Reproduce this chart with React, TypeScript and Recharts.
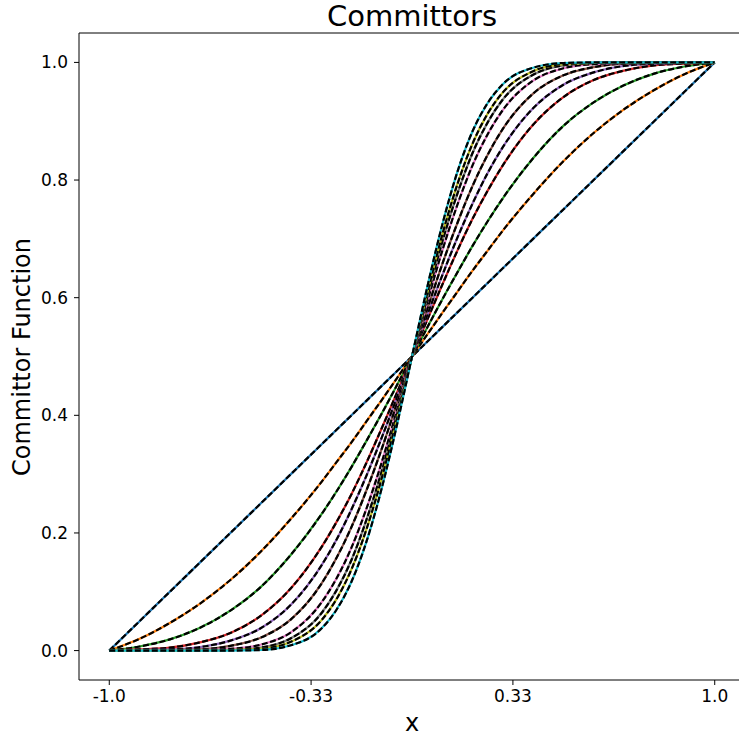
import React from "react";
import { LineChart, Line, XAxis, YAxis } from "recharts";

const xs = [-1, -0.9, -0.8, -0.7, -0.6, -0.5, -0.4, -0.3, -0.25, -0.2, -0.15, -0.1, -0.05, 0, 0.05, 0.1, 0.15, 0.2, 0.25, 0.3, 0.4, 0.5, 0.6, 0.7, 0.8, 0.9, 1];

const q0 = [0, 0.05, 0.1, 0.15, 0.2, 0.25, 0.3, 0.35, 0.375, 0.4, 0.425, 0.45, 0.475, 0.5, 0.525, 0.55, 0.575, 0.6, 0.625, 0.65, 0.7, 0.75, 0.8, 0.85, 0.9, 0.95, 1];
const q1 = [0, 0.02, 0.047, 0.08, 0.12, 0.168, 0.224, 0.286, 0.32, 0.354, 0.39, 0.426, 0.463, 0.5, 0.537, 0.574, 0.61, 0.646, 0.68, 0.714, 0.776, 0.832, 0.88, 0.92, 0.953, 0.98, 1];
const q2 = [0, 0.007, 0.019, 0.039, 0.068, 0.108, 0.163, 0.231, 0.27, 0.312, 0.357, 0.403, 0.451, 0.5, 0.549, 0.597, 0.643, 0.688, 0.73, 0.769, 0.837, 0.892, 0.932, 0.961, 0.981, 0.993, 1];
const q3 = [0, 0.002, 0.005, 0.014, 0.03, 0.059, 0.106, 0.175, 0.218, 0.266, 0.32, 0.378, 0.438, 0.5, 0.562, 0.622, 0.68, 0.734, 0.782, 0.825, 0.894, 0.941, 0.97, 0.986, 0.995, 0.998, 1];
const q4 = [0, 0.001, 0.002, 0.006, 0.017, 0.038, 0.078, 0.144, 0.188, 0.24, 0.298, 0.362, 0.43, 0.5, 0.57, 0.638, 0.702, 0.76, 0.812, 0.856, 0.922, 0.962, 0.983, 0.994, 0.998, 0.999, 1];
const q5 = [0, 0, 0.001, 0.002, 0.008, 0.022, 0.053, 0.113, 0.157, 0.21, 0.273, 0.343, 0.42, 0.5, 0.58, 0.657, 0.727, 0.79, 0.843, 0.887, 0.947, 0.978, 0.992, 0.998, 0.999, 1, 1];
const q6 = [0, 0, 0, 0.001, 0.003, 0.01, 0.031, 0.081, 0.122, 0.175, 0.242, 0.32, 0.408, 0.5, 0.592, 0.68, 0.758, 0.825, 0.878, 0.919, 0.969, 0.99, 0.997, 0.999, 1, 1, 1];
const q7 = [0, 0, 0, 0, 0.001, 0.005, 0.021, 0.063, 0.102, 0.154, 0.223, 0.305, 0.4, 0.5, 0.6, 0.695, 0.777, 0.846, 0.898, 0.937, 0.979, 0.995, 0.999, 1, 1, 1, 1];
const q8 = [0, 0, 0, 0, 0.001, 0.003, 0.015, 0.051, 0.087, 0.138, 0.207, 0.293, 0.393, 0.5, 0.607, 0.707, 0.793, 0.862, 0.913, 0.949, 0.985, 0.997, 0.999, 1, 1, 1, 1];
const q9 = [0, 0, 0, 0, 0, 0.001, 0.009, 0.037, 0.069, 0.117, 0.186, 0.276, 0.383, 0.5, 0.617, 0.724, 0.814, 0.883, 0.931, 0.963, 0.991, 0.999, 1, 1, 1, 1, 1];

const curves = [q0, q1, q2, q3, q4, q5, q6, q7, q8, q9];
const colors = ["#1f77b4", "#ff7f0e", "#2ca02c", "#d62728", "#9467bd", "#8c564b", "#e377c2", "#7f7f7f", "#bcbd22", "#17becf"];

const xTicks = [-1, -1 / 3, 1 / 3, 1];
const xTickLabels = ["-1.0", "-0.33", "0.33", "1.0"];
const yTicks = [0, 0.2, 0.4, 0.6, 0.8, 1.0];

const data = xs.map((x, i) => {
  const row: any = { x };
  curves.forEach((c, k) => {
    row["q" + k] = c[i];
  });
  return row;
});

const font = "DejaVu Sans, sans-serif";
const tickStyle = { fontSize: 17, fill: "#000", fontFamily: font };

const App = () => {
  return (
    <div
      style={{
        position: "absolute",
        left: 0,
        top: 0,
        width: 739,
        height: 736,
        overflow: "hidden",
        background: "#fff",
        fontFamily: font,
      }}
    >
      <div style={{ position: "absolute", left: 0, top: 0, width: 824, textAlign: "center", fontSize: 29, lineHeight: "32px", color: "#000" }}>
        Committors
      </div>
      <div style={{ position: "absolute", left: 0, top: 708, width: 824, textAlign: "center", fontSize: 24, lineHeight: "30px", color: "#000" }}>
        x
      </div>
      <div
        style={{
          position: "absolute",
          left: 22,
          top: 357,
          transform: "translate(-50%, -50%) rotate(-90deg)",
          whiteSpace: "nowrap",
          fontSize: 24,
          color: "#000",
        }}
      >
        Committor Function
      </div>
      <LineChart
        width={760}
        height={736}
        data={data}
        margin={{ top: 32, right: 15, left: 8, bottom: 26 }}
        style={{ position: "absolute", left: 0, top: 0 }}
      >
        <XAxis
          dataKey="x"
          type="number"
          domain={[-1.1, 1.1]}
          allowDataOverflow
          ticks={xTicks}
          tickFormatter={(v: number) => xTickLabels[xTicks.indexOf(v)]}
          tick={tickStyle}
          tickSize={5}
          tickMargin={5}
          height={30}
          stroke="#000"
        />
        <XAxis
          xAxisId="top"
          orientation="top"
          dataKey="x"
          type="number"
          domain={[-1.1, 1.1]}
          tick={false}
          tickLine={false}
          height={1}
          stroke="#000"
        />
        <YAxis
          type="number"
          domain={[-0.05, 1.05]}
          allowDataOverflow
          ticks={yTicks}
          tickFormatter={(v: number) => v.toFixed(1)}
          tick={tickStyle}
          tickSize={5}
          tickMargin={6}
          width={71}
          stroke="#000"
        />
        {curves.map((_, k) => [
          <Line
            key={"c" + k}
            dataKey={"q" + k}
            type="monotone"
            stroke={colors[k]}
            strokeWidth={2.2}
            dot={false}
            isAnimationActive={false}
          />,
          <Line
            key={"d" + k}
            dataKey={"q" + k}
            type="monotone"
            stroke="#000"
            strokeWidth={2.2}
            strokeDasharray="6 2.5"
            dot={false}
            isAnimationActive={false}
          />,
        ])}
      </LineChart>
    </div>
  );
};

export default App;
